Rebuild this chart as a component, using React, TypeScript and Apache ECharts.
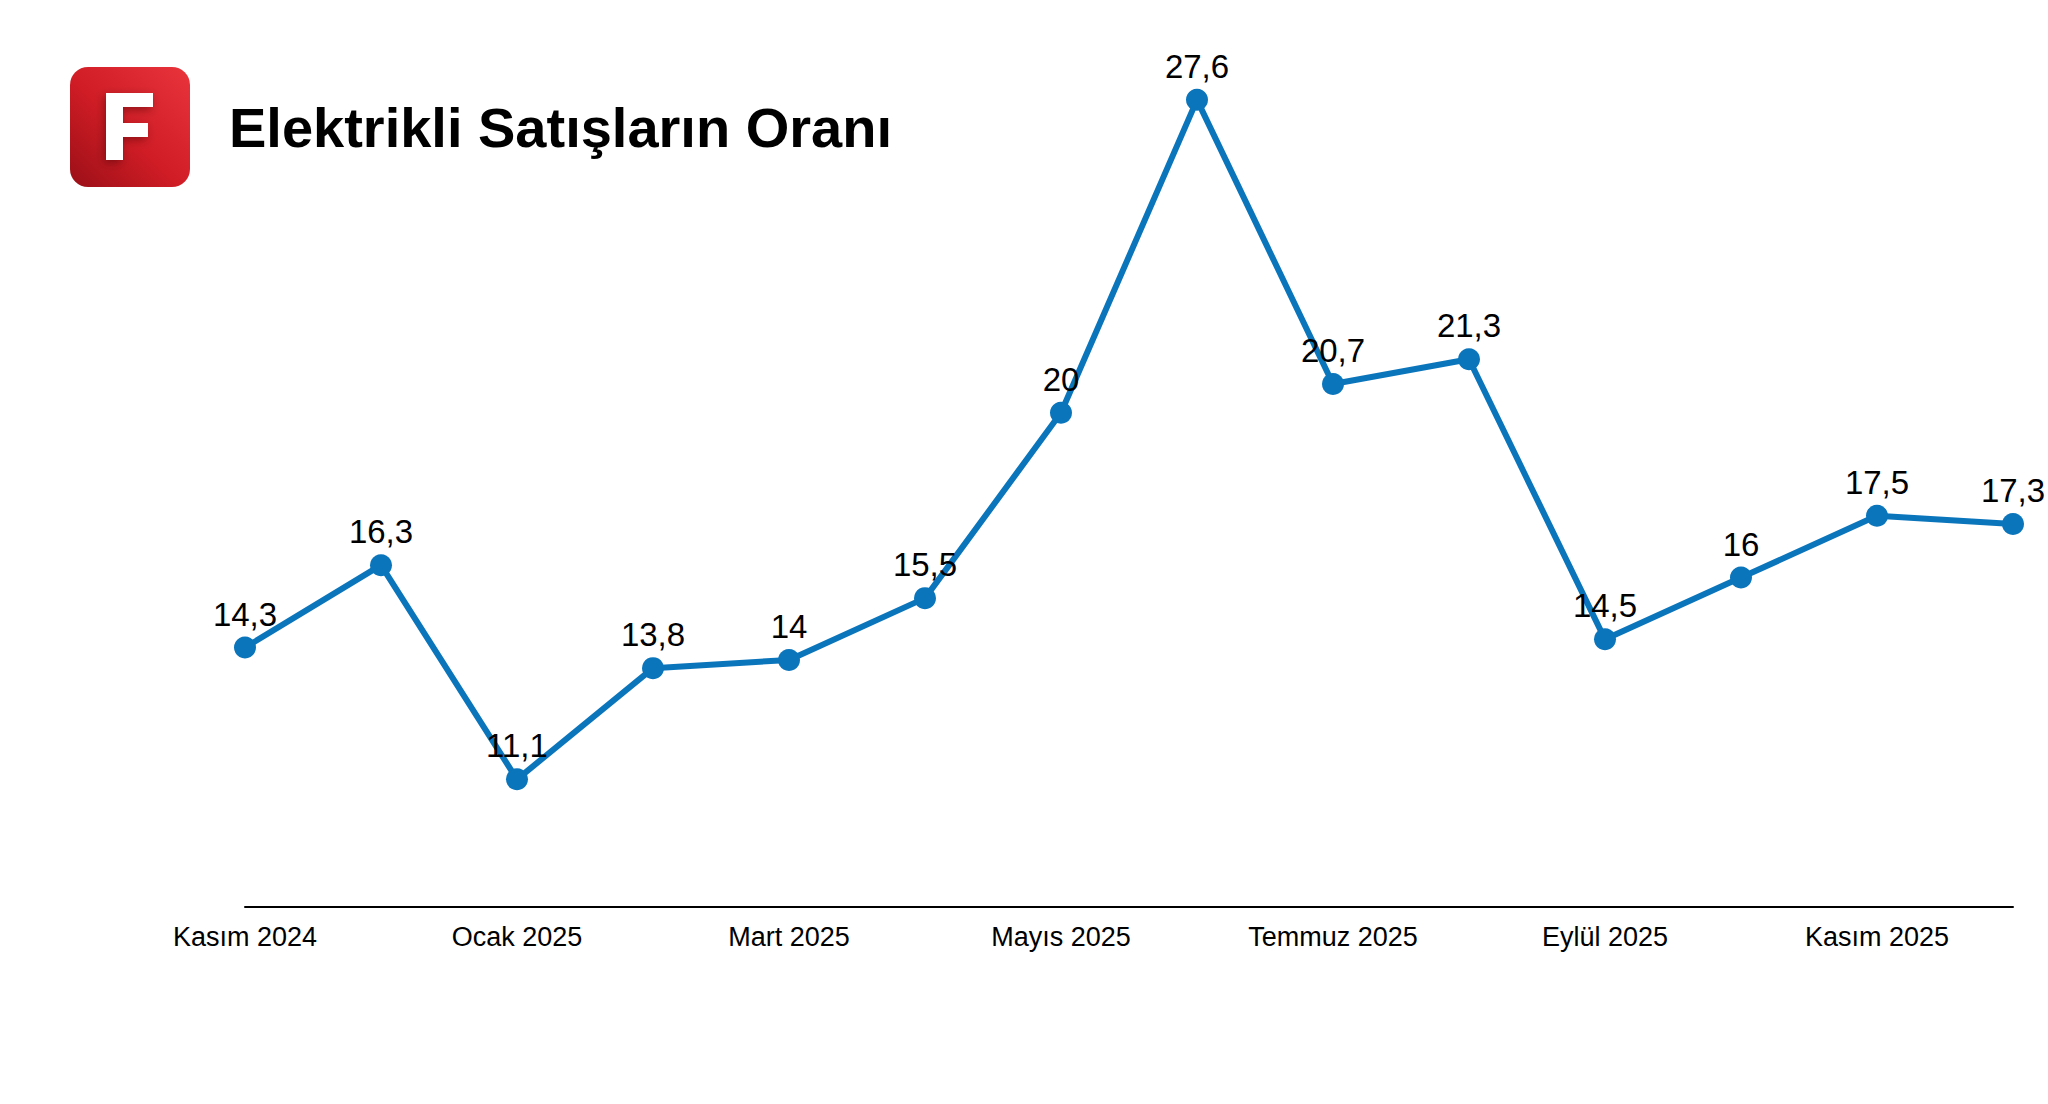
import React, { useEffect, useRef } from "react";
import * as echarts from "echarts";

const months: string[] = [
  "Kasım 2024", "Aralık 2024", "Ocak 2025", "Şubat 2025", "Mart 2025", "Nisan 2025",
  "Mayıs 2025", "Haziran 2025", "Temmuz 2025", "Ağustos 2025", "Eylül 2025", "Ekim 2025",
  "Kasım 2025", "Aralık 2025",
];
const shares: number[] = [14.3, 16.3, 11.1, 13.8, 14, 15.5, 20, 27.6, 20.7, 21.3, 14.5, 16, 17.5, 17.3];
const titleText = "Elektrikli Satışların Oranı";

const FONT = "'Liberation Sans', Arial, Helvetica, sans-serif";

export default function App() {
  const ref = useRef<HTMLDivElement>(null);
  useEffect(() => {
    if (!ref.current) return;
    const chart = echarts.init(ref.current, null, { renderer: "svg" });
    chart.setOption({
      animation: false,
      backgroundColor: "#ffffff",
      grid: { left: 245, right: 35, top: 1, bottom: 197, containLabel: false },
      xAxis: {
        type: "category",
        data: months,
        boundaryGap: false,
        axisLine: { show: true, lineStyle: { color: "#000000", width: 2 } },
        axisTick: { show: false },
        axisLabel: {
          interval: 1,
          margin: 16,
          color: "#000000",
          fontSize: 27,
          fontFamily: FONT,
        },
        splitLine: { show: false },
      },
      yAxis: {
        type: "value",
        min: 8,
        max: 30,
        show: false,
        splitLine: { show: false },
      },
      series: [
        {
          type: "line",
          data: shares,
          symbol: "circle",
          symbolSize: 22,
          lineStyle: { color: "#0b75bc", width: 6 },
          itemStyle: { color: "#0b75bc" },
          label: {
            show: true,
            position: "top",
            distance: 6,
            color: "#000000",
            fontSize: 33,
            fontFamily: FONT,
            formatter: (p: any) => String(p.value).replace(".", ","),
          },
          z: 3,
        },
      ],
      graphic: [
        {
          type: "rect",
          shape: { x: 70, y: 67, width: 120, height: 120, r: 18 },
          style: {
            fill: new echarts.graphic.LinearGradient(0, 1, 1, 0, [
              { offset: 0, color: "#9a0f17" },
              { offset: 0.45, color: "#cf1c25" },
              { offset: 1, color: "#e9343c" },
            ]),
          },
          z: 10,
        },
        {
          type: "polygon",
          shape: {
            points: [
              [106, 93], [153, 93], [153, 107], [123, 107], [123, 123], [148, 123],
              [148, 137], [123, 137], [123, 160], [106, 160],
            ],
          },
          style: {
            fill: "#ffffff",
            shadowBlur: 8,
            shadowColor: "rgba(60,0,0,0.45)",
            shadowOffsetX: -2,
            shadowOffsetY: 3,
          },
          z: 11,
        },
        {
          type: "text",
          x: 229,
          y: 127,
          style: {
            text: titleText,
            fill: "#000000",
            font: `bold 56px ${FONT}`,
            textAlign: "left",
            textVerticalAlign: "middle",
          },
          z: 10,
        },
      ],
    });
    return () => chart.dispose();
  }, []);
  return (
    <div
      ref={ref}
      style={{ position: "absolute", left: 0, top: 0, width: 2048, height: 1104 }}
    />
  );
}
